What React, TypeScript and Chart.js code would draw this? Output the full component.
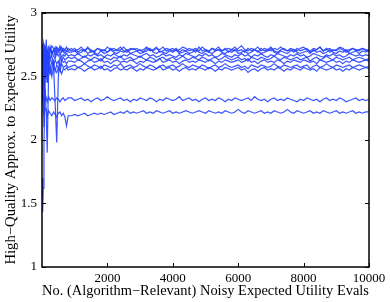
import React, { useEffect, useRef } from "react";
import { Chart, registerables } from "chart.js";

Chart.register(...registerables);

const xs = [
  0, 20, 40, 60, 80, 100, 130, 160, 200, 250, 300, 350, 400, 450, 500, 550, 600, 650, 700, 750, 800,
  900, 1000, 1100, 1200, 1300, 1400, 1500, 1600, 1700, 1800, 1900, 2000, 2100, 2200, 2300, 2400,
  2500, 2600, 2700, 2800, 2900, 3000, 3100, 3200, 3300, 3400, 3500, 3600, 3700, 3800, 3900, 4000,
  4100, 4200, 4300, 4400, 4500, 4600, 4700, 4800, 4900, 5000, 5100, 5200, 5300, 5400, 5500, 5600,
  5700, 5800, 5900, 6000, 6100, 6200, 6300, 6400, 6500, 6600, 6700, 6800, 6900, 7000, 7100, 7200,
  7300, 7400, 7500, 7600, 7700, 7800, 7900, 8000, 8100, 8200, 8300, 8400, 8500, 8600, 8700, 8800,
  8900, 9000, 9100, 9200, 9300, 9400, 9500, 9600, 9700, 9800, 9900, 10000,
];

const s0 = [
  2.40, 2.68, 2.58, 2.74, 2.50, 2.72, 2.64, 2.70, 2.58, 2.73, 2.68, 2.71, 2.66, 2.72, 2.69, 2.71, 2.73, 2.69, 2.71, 2.70, 2.72,
  2.70, 2.72, 2.69, 2.71, 2.70, 2.73, 2.69, 2.70, 2.72, 2.70,
  2.71, 2.69, 2.72, 2.70, 2.71, 2.73, 2.70, 2.69, 2.71, 2.72,
  2.70, 2.71, 2.69, 2.72, 2.70, 2.71, 2.73, 2.69, 2.70, 2.72,
  2.71, 2.70, 2.72, 2.69, 2.71, 2.70, 2.72, 2.71, 2.69, 2.73,
  2.70, 2.71, 2.69, 2.72, 2.70, 2.71, 2.70, 2.72, 2.69, 2.71,
  2.73, 2.70, 2.71, 2.69, 2.72, 2.70, 2.71, 2.69, 2.72, 2.70,
  2.71, 2.73, 2.70, 2.69, 2.71, 2.72, 2.70, 2.71, 2.69, 2.72,
  2.70, 2.71, 2.72, 2.69, 2.70, 2.71, 2.73, 2.70, 2.72, 2.69,
  2.71, 2.70, 2.72, 2.71, 2.69, 2.70, 2.72, 2.71, 2.70, 2.72,
  2.70, 2.71,
];

const s1 = [
  2.60, 2.72, 2.76, 2.70, 2.74, 2.66, 2.79, 2.62, 2.73, 2.70, 2.74, 2.72, 2.69, 2.73, 2.71, 2.74, 2.70, 2.72, 2.71, 2.73, 2.70,
  2.72, 2.70, 2.71, 2.73, 2.70, 2.72, 2.71, 2.69, 2.72, 2.71,
  2.70, 2.73, 2.71, 2.72, 2.70, 2.71, 2.73, 2.70, 2.72, 2.71,
  2.72, 2.70, 2.71, 2.73, 2.71, 2.70, 2.72, 2.71, 2.73, 2.70,
  2.71, 2.72, 2.70, 2.71, 2.73, 2.72, 2.70, 2.71, 2.72, 2.70,
  2.73, 2.71, 2.70, 2.72, 2.71, 2.73, 2.70, 2.71, 2.72, 2.71,
  2.70, 2.72, 2.74, 2.71, 2.70, 2.72, 2.71, 2.73, 2.70, 2.72,
  2.71, 2.70, 2.72, 2.71, 2.73, 2.71, 2.70, 2.72, 2.71, 2.70,
  2.72, 2.73, 2.71, 2.70, 2.72, 2.71, 2.73, 2.70, 2.71, 2.72,
  2.70, 2.71, 2.73, 2.72, 2.70, 2.71, 2.72, 2.70, 2.71, 2.72,
  2.71, 2.70,
];

const s2 = [
  2.70, 2.58, 2.45, 2.66, 2.72, 2.68, 2.60, 2.71, 2.62, 2.72, 2.67, 2.70, 2.73, 2.68, 2.70, 2.72, 2.69, 2.71, 2.68, 2.70, 2.69,
  2.69, 2.70, 2.68, 2.69, 2.71, 2.68, 2.70, 2.69, 2.67, 2.70,
  2.68, 2.69, 2.71, 2.69, 2.68, 2.70, 2.69, 2.71, 2.68, 2.69,
  2.70, 2.68, 2.69, 2.70, 2.72, 2.69, 2.68, 2.70, 2.69, 2.68,
  2.70, 2.69, 2.71, 2.68, 2.69, 2.70, 2.68, 2.69, 2.71, 2.69,
  2.68, 2.70, 2.69, 2.68, 2.70, 2.71, 2.69, 2.68, 2.70, 2.69,
  2.71, 2.68, 2.69, 2.70, 2.68, 2.69, 2.71, 2.70, 2.68, 2.69,
  2.70, 2.72, 2.69, 2.68, 2.70, 2.69, 2.68, 2.70, 2.71, 2.69,
  2.68, 2.69, 2.70, 2.68, 2.71, 2.69, 2.70, 2.68, 2.69, 2.71,
  2.69, 2.68, 2.70, 2.69, 2.71, 2.68, 2.69, 2.70, 2.68, 2.70,
  2.69, 2.70,
];

const s3 = [
  2.50, 2.65, 2.72, 2.40, 2.58, 2.70, 2.66, 2.50, 2.69, 2.63, 2.70, 2.66, 2.64, 2.68, 2.66, 2.69, 2.65, 2.67, 2.66, 2.68, 2.66,
  2.67, 2.66, 2.68, 2.66, 2.65, 2.67, 2.66, 2.68, 2.66, 2.67,
  2.65, 2.67, 2.66, 2.68, 2.66, 2.65, 2.67, 2.66, 2.68, 2.67,
  2.66, 2.65, 2.67, 2.68, 2.66, 2.67, 2.65, 2.66, 2.68, 2.66,
  2.67, 2.66, 2.65, 2.67, 2.66, 2.68, 2.67, 2.66, 2.65, 2.67,
  2.66, 2.68, 2.66, 2.67, 2.65, 2.66, 2.68, 2.67, 2.66, 2.65,
  2.67, 2.66, 2.68, 2.66, 2.67, 2.65, 2.67, 2.66, 2.68, 2.66,
  2.65, 2.67, 2.66, 2.68, 2.67, 2.66, 2.65, 2.67, 2.66, 2.68,
  2.66, 2.67, 2.65, 2.66, 2.68, 2.67, 2.66, 2.65, 2.67, 2.66,
  2.68, 2.66, 2.67, 2.65, 2.66, 2.68, 2.67, 2.66, 2.67, 2.66,
  2.67, 2.66,
];

const s4 = [
  2.75, 2.40, 2.62, 2.55, 2.30, 2.60, 2.68, 2.62, 2.55, 2.64, 2.66, 2.60, 2.30, 1.98, 2.50, 2.66, 2.62, 2.65, 2.63, 2.64, 2.65,
  2.64, 2.65, 2.63, 2.64, 2.66, 2.64, 2.63, 2.65, 2.64, 2.62,
  2.65, 2.64, 2.63, 2.65, 2.64, 2.66, 2.63, 2.64, 2.65, 2.63,
  2.64, 2.66, 2.64, 2.63, 2.65, 2.64, 2.62, 2.64, 2.65, 2.63,
  2.64, 2.65, 2.63, 2.64, 2.66, 2.64, 2.63, 2.65, 2.64, 2.63,
  2.65, 2.64, 2.62, 2.64, 2.65, 2.63, 2.64, 2.66, 2.64, 2.63,
  2.64, 2.65, 2.63, 2.64, 2.62, 2.65, 2.64, 2.63, 2.65, 2.64,
  2.63, 2.64, 2.66, 2.64, 2.63, 2.65, 2.64, 2.63, 2.64, 2.65,
  2.63, 2.64, 2.65, 2.62, 2.64, 2.65, 2.63, 2.64, 2.66, 2.64,
  2.63, 2.65, 2.64, 2.63, 2.64, 2.65, 2.63, 2.64, 2.65, 2.64,
  2.63, 2.64,
];

const s5 = [
  2.45, 2.70, 2.55, 2.62, 2.35, 2.40, 2.20, 1.90, 2.50, 2.55, 2.62, 2.58, 2.63, 2.60, 2.62, 2.57, 2.63, 2.61, 2.62, 2.60, 2.62,
  2.62, 2.61, 2.63, 2.62, 2.60, 2.62, 2.63, 2.61, 2.62, 2.64,
  2.61, 2.62, 2.60, 2.62, 2.63, 2.61, 2.62, 2.61, 2.63, 2.62,
  2.60, 2.62, 2.61, 2.63, 2.62, 2.61, 2.62, 2.64, 2.61, 2.62,
  2.63, 2.61, 2.62, 2.60, 2.62, 2.63, 2.61, 2.62, 2.61, 2.63,
  2.62, 2.61, 2.63, 2.62, 2.60, 2.62, 2.61, 2.63, 2.62, 2.61,
  2.62, 2.63, 2.61, 2.62, 2.64, 2.61, 2.62, 2.60, 2.62, 2.63,
  2.61, 2.62, 2.61, 2.63, 2.62, 2.60, 2.62, 2.61, 2.63, 2.62,
  2.61, 2.63, 2.62, 2.61, 2.62, 2.60, 2.63, 2.62, 2.61, 2.62,
  2.63, 2.61, 2.62, 2.60, 2.62, 2.61, 2.63, 2.62, 2.61, 2.62,
  2.63, 2.62,
];

const s6 = [
  2.65, 2.30, 2.55, 2.70, 2.62, 2.48, 2.58, 2.45, 2.60, 2.52, 2.56, 2.62, 2.54, 2.59, 2.57, 2.54, 2.60, 2.57, 2.58, 2.59, 2.57,
  2.58, 2.59, 2.57, 2.58, 2.60, 2.58, 2.57, 2.59, 2.58, 2.56,
  2.59, 2.58, 2.57, 2.59, 2.58, 2.60, 2.57, 2.58, 2.59, 2.57,
  2.58, 2.60, 2.58, 2.57, 2.59, 2.58, 2.56, 2.58, 2.59, 2.57,
  2.58, 2.59, 2.57, 2.58, 2.60, 2.58, 2.57, 2.59, 2.58, 2.57,
  2.59, 2.58, 2.56, 2.58, 2.59, 2.57, 2.58, 2.60, 2.58, 2.57,
  2.58, 2.59, 2.57, 2.58, 2.56, 2.59, 2.58, 2.57, 2.59, 2.58,
  2.57, 2.58, 2.60, 2.58, 2.57, 2.59, 2.58, 2.57, 2.58, 2.59,
  2.57, 2.58, 2.59, 2.56, 2.58, 2.59, 2.57, 2.58, 2.60, 2.58,
  2.57, 2.59, 2.58, 2.57, 2.58, 2.59, 2.57, 2.58, 2.59, 2.58,
  2.57, 2.58,
];

const s7 = [
  1.70, 1.43, 1.62, 1.95, 2.30, 2.55, 2.62, 2.45, 2.55, 2.58, 2.50, 2.57, 2.55, 2.53, 2.57, 2.55, 2.52, 2.56, 2.55, 2.57, 2.55,
  2.56, 2.55, 2.57, 2.56, 2.54, 2.56, 2.57, 2.55, 2.56, 2.58,
  2.55, 2.56, 2.54, 2.56, 2.57, 2.55, 2.56, 2.55, 2.57, 2.56,
  2.54, 2.56, 2.55, 2.57, 2.56, 2.55, 2.56, 2.58, 2.55, 2.56,
  2.57, 2.55, 2.56, 2.54, 2.56, 2.57, 2.55, 2.56, 2.55, 2.57,
  2.56, 2.55, 2.57, 2.56, 2.54, 2.56, 2.55, 2.57, 2.56, 2.55,
  2.56, 2.57, 2.55, 2.56, 2.53, 2.55, 2.56, 2.54, 2.56, 2.57,
  2.55, 2.56, 2.55, 2.57, 2.56, 2.54, 2.56, 2.55, 2.57, 2.56,
  2.55, 2.57, 2.56, 2.55, 2.56, 2.54, 2.57, 2.56, 2.55, 2.56,
  2.57, 2.55, 2.56, 2.54, 2.56, 2.55, 2.57, 2.56, 2.55, 2.56,
  2.57, 2.56,
];

const s8 = [
  2.55, 2.45, 2.20, 2.30, 2.36, 2.31, 2.33, 2.30, 2.34, 2.31, 2.33, 2.32, 2.31, 2.33, 2.32, 2.30, 2.32, 2.33, 2.31, 2.32, 2.33,
  2.33, 2.31, 2.32, 2.33, 2.31, 2.32, 2.30, 2.32, 2.33, 2.31,
  2.32, 2.34, 2.32, 2.31, 2.32, 2.33, 2.31, 2.32, 2.30, 2.32,
  2.31, 2.33, 2.32, 2.31, 2.33, 2.32, 2.30, 2.32, 2.31, 2.33,
  2.32, 2.31, 2.32, 2.34, 2.31, 2.32, 2.33, 2.31, 2.32, 2.30,
  2.32, 2.33, 2.31, 2.32, 2.31, 2.33, 2.32, 2.30, 2.32, 2.31,
  2.33, 2.32, 2.31, 2.32, 2.33, 2.31, 2.34, 2.32, 2.31, 2.32,
  2.30, 2.32, 2.33, 2.31, 2.32, 2.31, 2.33, 2.32, 2.31, 2.30,
  2.32, 2.31, 2.33, 2.32, 2.31, 2.32, 2.30, 2.32, 2.33, 2.31,
  2.32, 2.31, 2.33, 2.32, 2.30, 2.31, 2.32, 2.33, 2.31, 2.32,
  2.31, 2.32,
];

const s9 = [
  2.35, 2.60, 2.30, 2.10, 2.24, 2.25, 2.24, 2.18, 2.23, 2.21, 2.19, 2.22, 2.20, 2.18, 2.21, 2.22, 2.19, 2.21, 2.18, 2.11, 2.19,
  2.19, 2.20, 2.19, 2.20, 2.21, 2.19, 2.20, 2.21, 2.20, 2.21,
  2.20, 2.21, 2.22, 2.20, 2.21, 2.22, 2.21, 2.23, 2.21, 2.22,
  2.21, 2.22, 2.23, 2.21, 2.22, 2.21, 2.23, 2.22, 2.21, 2.22,
  2.23, 2.21, 2.22, 2.21, 2.22, 2.23, 2.22, 2.21, 2.22, 2.23,
  2.22, 2.21, 2.23, 2.22, 2.21, 2.22, 2.21, 2.23, 2.22, 2.21,
  2.22, 2.24, 2.22, 2.21, 2.23, 2.22, 2.21, 2.22, 2.23, 2.21,
  2.22, 2.21, 2.23, 2.22, 2.21, 2.22, 2.24, 2.22, 2.21, 2.23,
  2.22, 2.21, 2.22, 2.23, 2.21, 2.22, 2.21, 2.23, 2.22, 2.21,
  2.22, 2.23, 2.21, 2.22, 2.21, 2.22, 2.23, 2.21, 2.22, 2.21,
  2.22, 2.22,
];

const seriesList = [s0, s1, s2, s3, s4, s5, s6, s7, s8, s9];
const xTicks = [2000, 4000, 6000, 8000, 10000];
const yTicks = [1, 1.5, 2, 2.5, 3];
const xTitle = "No. (Algorithm\u2212Relevant) Noisy Expected Utility Evals";
const yTitle = "High\u2212Quality Approx. to Expected Utility";

const FONT = "'Liberation Serif', 'Times New Roman', serif";

const framePlugin = {
  id: "frameTicks",
  afterDraw(chart: any) {
    const { ctx, chartArea } = chart;
    const { left, right, top, bottom } = chartArea;
    const xs_ = chart.scales.x;
    const ys_ = chart.scales.y;
    ctx.save();
    ctx.strokeStyle = "#000";
    ctx.lineWidth = 1;
    const tl = 4;
    ctx.beginPath();
    for (const v of xTicks) {
      const px = Math.round(xs_.getPixelForValue(v)) + 0.5;
      ctx.moveTo(px, bottom);
      ctx.lineTo(px, bottom - tl);
      ctx.moveTo(px, top);
      ctx.lineTo(px, top + tl);
    }
    for (const v of yTicks) {
      const py = Math.round(ys_.getPixelForValue(v)) + 0.5;
      ctx.moveTo(left, py);
      ctx.lineTo(left + tl, py);
      ctx.moveTo(right, py);
      ctx.lineTo(right - tl, py);
    }
    ctx.stroke();
    ctx.lineWidth = 1.5;
    ctx.strokeRect(left, top, right - left, bottom - top);
    ctx.restore();
  },
};

export default function App() {
  const ref = useRef<HTMLCanvasElement | null>(null);
  useEffect(() => {
    if (!ref.current) return;
    const chart = new Chart(ref.current, {
      type: "line",
      data: {
        datasets: seriesList.map((s) => ({
          data: s.map((y, i) => ({ x: xs[i], y })),
          borderColor: "rgba(35, 65, 255, 0.9)",
          borderWidth: 1.2,
          pointRadius: 0,
          tension: 0,
          fill: false,
        })),
      },
      options: {
        animation: false,
        responsive: false,
        events: [],
        layout: { padding: { top: 11, right: 21, left: 0, bottom: 0 } },
        plugins: { legend: { display: false }, tooltip: { enabled: false } },
        scales: {
          x: {
            type: "linear",
            min: 0,
            max: 10000,
            grid: { display: false, drawTicks: false },
            border: { display: false },
            afterBuildTicks: (scale: any) => {
              scale.ticks = xTicks.map((v) => ({ value: v }));
            },
            afterFit: (scale: any) => {
              scale.height = 35;
            },
            ticks: {
              autoSkip: false,
              maxRotation: 0,
              padding: 4,
              color: "#000",
              font: { family: FONT, size: 13 },
              callback: (v: any) => String(v),
            },
            title: {
              display: true,
              text: xTitle,
              color: "#000",
              font: { family: FONT, size: 14.7 },
              padding: { top: 0, bottom: 2 },
            },
          },
          y: {
            type: "linear",
            min: 1,
            max: 3,
            grid: { display: false, drawTicks: false },
            border: { display: false },
            afterBuildTicks: (scale: any) => {
              scale.ticks = yTicks.map((v) => ({ value: v }));
            },
            afterFit: (scale: any) => {
              scale.width = 42;
            },
            ticks: {
              autoSkip: false,
              padding: 5,
              color: "#000",
              font: { family: FONT, size: 13 },
              callback: (v: any) => String(v),
            },
            title: {
              display: true,
              text: yTitle,
              color: "#000",
              font: { family: FONT, size: 14.7 },
              padding: { top: 2, bottom: 0 },
            },
          },
        },
      },
      plugins: [framePlugin],
    });
    return () => chart.destroy();
  }, []);
  return (
    <div style={{ position: "absolute", left: 0, top: 0, width: 390, height: 302, background: "#fff" }}>
      <canvas ref={ref} width={390} height={302} />
    </div>
  );
}
